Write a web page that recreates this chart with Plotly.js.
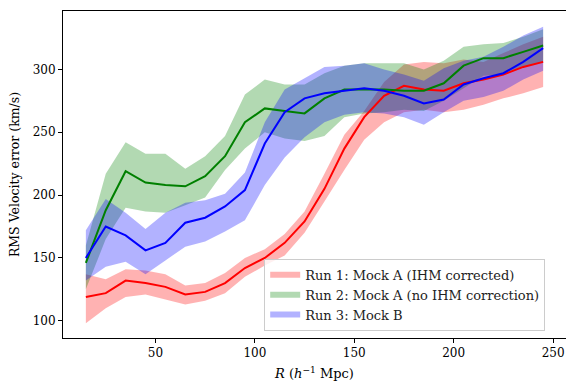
<!DOCTYPE html>
<html>
<head>
<meta charset="utf-8">
<script src="https://cdn.plot.ly/plotly-3.0.1.min.js"></script>
<style>html,body{margin:0;padding:0;background:#fff;}#chart{width:566px;height:382px;}</style>
</head>
<body>
<div id="chart"></div>
<script>
const R = [15,25,35,45,55,65,75,85,95,105,115,125,135,145,155,165,175,185,195,205,215,225,235,245];

const run1Mid = [119,122,132,130,127,121,123,130,142,150,162,179,205,237,262,279,287,284,283,289,292,296,302,306];
const run1Lo  = [98,110,119,121,117,113,116,122,135,144,152,170,195,220,244,258,266,268,266,268,272,277,281,286];
const run1Hi  = [137,133,141,140,137,128,130,138,150,157,169,187,217,248,267,290,304,306,305,308,306,313,320,326];

const run2Mid = [146,188,219,210,208,207,215,231,258,269,267,265,277,284,284,284,283,283,289,303,309,309,314,319];
const run2Lo  = [125,165,190,187,186,192,198,220,237,250,245,243,247,262,265,266,268,267,275,285,295,296,302,306];
const run2Hi  = [160,217,242,233,233,221,231,247,280,292,288,288,297,303,305,305,305,300,307,318,320,321,326,332];

const run3Mid = [150,175,168,156,162,178,182,191,204,241,266,277,281,283,285,283,279,273,276,288,293,297,306,317];
const run3Lo  = [132,143,147,137,148,159,163,171,180,208,230,246,258,264,266,265,262,256,266,275,278,283,292,299];
const run3Hi  = [172,197,186,173,186,194,196,201,218,258,284,293,302,303,305,300,296,291,301,307,310,318,327,334];

const names = ['Run 1: Mock A (IHM corrected)', 'Run 2: Mock A (no IHM correction)', 'Run 3: Mock B'];
const lineColors = ['#ff0000', '#008000', '#0000ff'];
const fillColors = ['rgba(255,0,0,0.3)', 'rgba(0,128,0,0.3)', 'rgba(0,0,255,0.3)'];
const mids = [run1Mid, run2Mid, run3Mid];
const los = [run1Lo, run2Lo, run3Lo];
const his = [run1Hi, run2Hi, run3Hi];

const traces = [];
for (let i = 0; i < 3; i++) {
  traces.push({
    x: R.concat(R.slice().reverse()),
    y: his[i].concat(los[i].slice().reverse()),
    type: 'scatter', mode: 'none', fill: 'toself',
    fillcolor: fillColors[i], name: names[i], hoverinfo: 'skip'
  });
}
for (let i = 0; i < 3; i++) {
  traces.push({
    x: R, y: mids[i], type: 'scatter', mode: 'lines',
    line: {color: lineColors[i], width: 2}, showlegend: false
  });
}

const fam = 'DejaVu Serif, serif';
const layout = {
  width: 566, height: 382,
  margin: {l: 63, r: 0, t: 11, b: 44},
  paper_bgcolor: '#fff', plot_bgcolor: '#fff',
  font: {family: fam, size: 12, color: '#000'},
  showlegend: true,
  legend: {
    x: 0.4, y: 0.022, xanchor: 'left', yanchor: 'bottom',
    bgcolor: 'rgba(255,255,255,0.8)', bordercolor: '#cccccc', borderwidth: 1,
    font: {family: fam, size: 13, color: '#222'},
    itemwidth: 30
  },
  xaxis: {
    range: [3.5, 256.5], tickvals: [50,100,150,200,250],
    ticks: 'outside', ticklen: 4, tickwidth: 1, tickcolor: '#000',
    showline: true, linecolor: '#000', linewidth: 1, mirror: true,
    showgrid: false, zeroline: false,
    title: {text: '<i>R</i> (<i>h</i><sup>−1</sup> Mpc)', font: {family: fam, size: 13}, standoff: 9}
  },
  yaxis: {
    range: [86.3, 346.5], tickvals: [100,150,200,250,300],
    ticks: 'outside', ticklen: 4, tickwidth: 1, tickcolor: '#000',
    showline: true, linecolor: '#000', linewidth: 1, mirror: true,
    showgrid: false, zeroline: false,
    title: {text: 'RMS Velocity error (km/s)', font: {family: fam, size: 12.5}, standoff: 10}
  }
};

Plotly.newPlot('chart', traces, layout, {displayModeBar: false, staticPlot: true});
</script>
</body>
</html>
